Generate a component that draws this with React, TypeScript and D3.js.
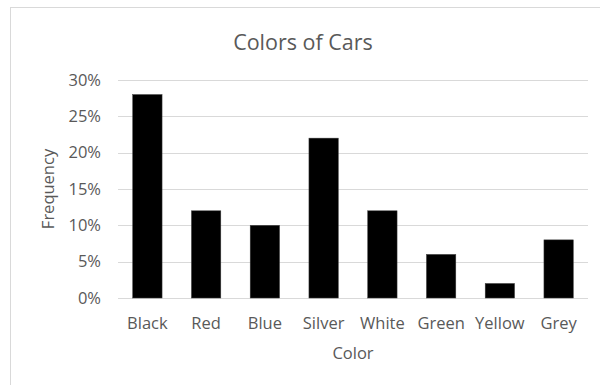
import {useEffect, useRef} from 'react';
import * as d3 from 'd3';

const categories = ['Black', 'Red', 'Blue', 'Silver', 'White', 'Green', 'Yellow', 'Grey'];
const frequency = [0.28, 0.12, 0.10, 0.22, 0.12, 0.06, 0.02, 0.08];
const yTicks = [0, 0.05, 0.10, 0.15, 0.20, 0.25, 0.30];

const width = 600;
const height = 385;
const font = '"Open Sans", sans-serif';

const App = () => {
  const svgRef = useRef<SVGSVGElement>(null);

  useEffect(() => {
    const svg = d3.select(svgRef.current);
    svg.selectAll('*').remove();

    const margin = {top: 80, right: 12, bottom: 87, left: 118};
    const innerWidth = width - margin.left - margin.right;
    const innerHeight = height - margin.top - margin.bottom;

    // chart frame (only top and left edges are inside the picture)
    svg.append('rect')
      .attr('x', 10.5)
      .attr('y', 7.5)
      .attr('width', width + 20)
      .attr('height', height + 20)
      .attr('fill', 'white')
      .attr('stroke', '#d9d9d9')
      .attr('stroke-width', 1);

    const xScale = d3.scaleBand()
      .domain(categories)
      .range([0, innerWidth])
      .paddingInner(0.5)
      .paddingOuter(0.25);

    const yScale = d3.scaleLinear()
      .domain([0, 0.3])
      .range([innerHeight, 0]);

    const g = svg.append('g')
      .attr('transform', `translate(${margin.left}, ${margin.top})`);

    // Grid
    g.append('g')
      .call(d3.axisLeft(yScale).tickValues(yTicks).tickSize(-innerWidth).tickFormat(() => ''))
      .call(a => a.select('.domain').remove())
      .selectAll('.tick line')
      .attr('stroke', '#d9d9d9')
      .attr('stroke-width', 1)
      .attr('shape-rendering', 'crispEdges');

    // y tick labels
    g.append('g')
      .attr('font-family', font)
      .attr('font-size', 16.5)
      .call(d3.axisLeft(yScale).tickValues(yTicks).tickSize(0).tickPadding(17).tickFormat(d3.format('.0%')))
      .call(a => a.select('.domain').remove())
      .selectAll('text')
      .style('font-family', font)
      .style('font-size', '16.5px')
      .attr('fill', '#595959');

    // Bars
    g.selectAll('.bar')
      .data(frequency)
      .enter().append('rect')
      .attr('class', 'bar')
      .attr('x', (d, i) => xScale(categories[i])!)
      .attr('y', d => yScale(d))
      .attr('width', xScale.bandwidth())
      .attr('height', d => innerHeight - yScale(d))
      .attr('fill', 'black')
      .attr('stroke', '#404040')
      .attr('stroke-width', 0.5);

    // x labels
    g.append('g')
      .attr('transform', `translate(0, ${innerHeight})`)
      .attr('font-family', font)
      .attr('font-size', 16.5)
      .call(d3.axisBottom(xScale).tickSize(0).tickPadding(19))
      .call(a => a.select('.domain').remove())
      .selectAll('text')
      .style('font-family', font)
      .style('font-size', '16.5px')
      .attr('fill', '#595959');

    // Title
    svg.append('text')
      .attr('x', 303)
      .attr('y', 50)
      .style('text-anchor', 'middle')
      .style('font-family', font)
      .style('font-size', '21.5px')
      .attr('fill', '#595959')
      .text('Colors of Cars');

    // x-axis label
    svg.append('text')
      .attr('x', margin.left + innerWidth / 2)
      .attr('y', 359)
      .style('text-anchor', 'middle')
      .style('font-family', font)
      .style('font-size', '16.5px')
      .attr('fill', '#595959')
      .text('Color');

    // y-axis label
    svg.append('text')
      .attr('transform', `translate(54, ${margin.top + innerHeight / 2}) rotate(-90)`)
      .style('text-anchor', 'middle')
      .style('font-family', font)
      .style('font-size', '16.5px')
      .attr('fill', '#595959')
      .text('Frequency');
  }, []);

  return (
    <svg
      ref={svgRef}
      width={width}
      height={height}
      style={{position: 'absolute', left: 0, top: 0, background: 'white'}}
    />
  );
};

export default App;
